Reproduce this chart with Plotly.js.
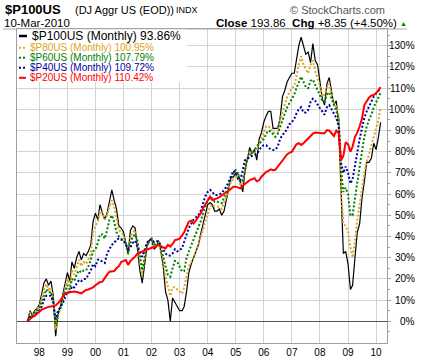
<!DOCTYPE html>
<html><head><meta charset="utf-8">
<script src="https://cdn.plot.ly/plotly-3.0.1.min.js"></script>
<style>html,body{margin:0;padding:0;background:#fff;}#chart{width:433px;height:360px;}</style>
</head><body><div id="chart"></div>
<script>
// ---- data (monthly, Aug 1997 .. Mar 2010), % change from start ----
const startYear = 1997, startMonth = 8;
const p100 = [0, 5, 3, 5, 6,
 8, 13, 18, 20, 17, 19, 12, -7, 3, 7,
 13, 18, 23, 19, 28, 25, 30, 33, 29, 32,
 31, 33, 36, 47, 51, 48, 55, 51, 48, 51,
 56, 62, 57, 53, 45, 44, 42, 36, 32, 43,
 45, 44, 34, 24, 18, 27, 35, 38, 39, 34,
 35, 38, 33, 26, 14, 10, 0, 11, 9, 7,
 5, 5, 7, 14, 23, 27, 30, 33, 36, 41,
 46, 51, 55, 56, 55, 52, 52, 53, 50, 52,
 58, 63, 68, 68, 70, 70, 66, 61, 71, 76,
 82, 79, 81, 76, 86, 89, 94, 97, 99, 99,
 91, 91, 91, 96, 106, 109, 113, 115, 117, 117,
 124, 130, 134, 130, 126, 127, 122, 131, 123, 121,
 114, 105, 102, 112, 115, 108, 102, 104, 92, 63,
 32, 33, 27, 15, 17, 30, 42, 46, 58, 66,
 75, 75, 77, 84, 81, 87, 93.86];
const p80 = [0, 4, 3, 4.5, 5.5,
 7, 11, 15, 17.5, 15, 16, 10, -4, 3, 6,
 11, 15, 20, 17, 24, 22, 26, 29, 26, 28,
 27, 29, 32, 42, 45, 47, 52, 51, 48, 50,
 54, 57, 54, 48, 43, 42, 40.5, 36, 31, 40,
 42, 43, 37, 28, 22, 29, 35, 38, 39, 35,
 36, 37, 33, 28, 21, 17, 12, 16, 16, 15,
 14, 13, 16, 22, 26, 28, 30, 33, 36, 40,
 43, 47, 51, 54, 55, 54, 54, 54, 53, 56,
 59, 63, 66, 67, 68, 70, 64, 66, 71, 77,
 80, 80, 79, 81, 84, 86, 89, 92, 92, 91,
 89, 89, 89, 95, 99, 102, 106, 108, 110, 111,
 116, 121, 125, 121, 119, 117, 121, 123, 118, 115,
 111, 106, 107, 110, 112, 107, 103, 101, 97, 62,
 46, 45, 42, 35, 30, 38, 48, 55, 63, 70,
 75, 79, 82, 86, 90, 95, 100.95];
const p60 = [0, 3, 2.5, 4, 5,
 6, 9, 12.5, 15, 13.5, 14, 9, -1.5, 4, 6,
 9.5, 13, 17, 15, 20, 19, 22, 24, 23, 24,
 24, 26, 29, 33, 34, 37, 41, 41, 39, 43,
 48, 50, 47, 42, 40, 39, 38, 37, 32, 37,
 40, 41, 38, 30, 24, 30, 36, 38, 39, 36,
 37, 38, 35, 30, 26, 22, 21, 25, 28.5, 28,
 26, 23.5, 23.7, 30, 33, 36, 39, 41.5, 44, 47,
 51, 54, 57, 58.5, 58, 56.4, 56.4, 56, 55.7, 58.5,
 61.5, 65, 67.5, 70, 71.5, 69, 66, 66, 72, 77,
 78.5, 79, 81, 82.5, 84, 84.7, 86, 88.5, 90, 89.5,
 88, 87, 88.5, 92, 95, 98, 101, 103, 105, 107,
 110, 113, 115.4, 113, 110.5, 110, 113.5, 114, 111.5, 108.5,
 106, 104, 103.6, 107, 108, 105, 103, 100, 96, 72,
 61, 63, 60, 50, 50, 58, 66, 73, 80, 87,
 92, 95, 97.5, 101, 103.5, 105.5, 107.79];
const p40 = [0, 2, 2, 3, 4,
 5, 7, 10, 12, 12, 12, 9, 1, 5, 6.5,
 8.5, 11, 14, 13, 16.5, 16, 18, 19.5, 19, 20,
 20, 22, 24, 27, 26, 29, 29, 28, 27.5, 32,
 34, 36, 37, 38.5, 39, 38.5, 38, 36, 34, 35,
 37, 38, 35, 32, 30.5, 34, 37, 38.5, 38.5, 37.5,
 38, 37.5, 36, 34, 32, 31, 31, 32, 34, 33,
 33.5, 34.5, 37.5, 41, 44, 46, 48, 49, 50, 52,
 56, 59, 61, 62, 61, 59.6, 59.6, 60, 60.4, 62,
 63.5, 66, 69, 71, 70, 67, 66.5, 71, 76, 76.5,
 77.5, 78, 78.5, 79, 80.5, 82.4, 83, 83, 82, 81,
 80.8, 81, 82.4, 86, 88, 89, 91, 93, 94, 95.5,
 98, 100, 101, 98.5, 98.5, 99.7, 103.5, 105, 104, 102,
 100.5, 99, 97.5, 101, 102, 100, 98, 96, 92, 75,
 70, 73, 70, 65, 67, 74, 80, 86, 91, 96,
 99, 101.5, 104, 106, 107.5, 108.5, 109.72];
const p20 = [0, 1, 2, 2.5, 3.5,
 4.5, 5.5, 6, 6.5, 6.8, 7, 7.2, 7.5, 8.5, 10,
 12, 13, 13.5, 13.8, 14, 14, 13.8, 13.5, 13.2, 14,
 14.8, 15, 15.5, 16, 17, 18, 18.5, 18.7, 20.5, 22,
 23.4, 23.5, 23.7, 25, 26, 28, 28.5, 28.9, 26.6, 28.5,
 29.5, 30.5, 32, 32.5, 33, 33.5, 34, 34.4, 34.7, 35,
 35.5, 36, 35.5, 35, 34.4, 36, 35.2, 36.5, 38.3, 38.6,
 39, 40.5, 42, 44.6, 47, 47.5, 46.2, 47.5, 49, 51,
 53.3, 55, 57, 58.8, 57.2, 57.5, 58, 58.6, 59.5, 60.5,
 61, 61.6, 62.5, 63.5, 63.5, 63, 62.7, 64, 65, 66,
 66.6, 67, 67.5, 66, 66.5, 68.2, 69.5, 70.5, 71, 71.7,
 71.3, 71.5, 72.9, 74.5, 76, 77.6, 78.8, 79.5, 80, 81.8,
 83.5, 84, 83.2, 84, 85, 86.5, 87.5, 88.5, 89, 88.8,
 88.7, 88.7, 88.7, 90.2, 90, 88.5, 87.4, 90, 88.7, 76,
 78, 84.5, 83.5, 80, 82.4, 87, 89, 92, 95.5, 102,
 104, 105.5, 106.5, 106.7, 107.5, 109, 110.42];

const seriesNames = ['$P100US', '$P80US', '$P60US', '$P40US', '$P20US'];
const seriesColors = ['#000000', '#DAA520', '#008000', '#0000A0', '#FF0000'];
const yTicks = [0, 10, 20, 30, 40, 50, 60, 70, 80, 90, 100, 110, 120, 130];
const xTickYears = [1998, 1999, 2000, 2001, 2002, 2003, 2004, 2005, 2006, 2007, 2008, 2009, 2010];
const xTickLabels = ['98', '99', '00', '01', '02', '03', '04', '05', '06', '07', '08', '09', '10'];
const symbol = '$P100US', symbolDesc = '(DJ Aggr US (EOD))', exchange = 'INDX';
const dateLabel = '10-Mar-2010', closeVal = '193.86', chgVal = '+8.35', chgPct = '(+4.50%)';

// ---- build ----
const dates = p100.map((_, i) => {
  const t = startMonth - 1 + i;
  const y = startYear + Math.floor(t / 12);
  const m = t % 12 + 1;
  return y + '-' + String(m).padStart(2, '0') + '-01';
});
const W = 433, H = 360, L = 17, R = 46, T = 29, B = 17;
const pw = W - L - R, ph = H - T - B;
const px = v => (v - L) / pw;
const py = v => (H - B - v) / ph;
const FONT = 'Liberation Sans, Arial, sans-serif';

const allSeries = [p100, p80, p60, p40, p20];
const styles = [
  {color: seriesColors[0], width: 1.2},
  {color: seriesColors[1], width: 2, dash: '2px,2px'},
  {color: seriesColors[2], width: 2, dash: '2px,2px'},
  {color: seriesColors[3], width: 2, dash: '2px,2px'},
  {color: seriesColors[4], width: 2}
];
const traces = allSeries.map((s, i) => ({
  x: dates, y: s, type: 'scatter', mode: 'lines', name: seriesNames[i],
  line: styles[i], hoverinfo: 'skip'
}));

const annotations = [];
const shapes = [];
// header
annotations.push({xref: 'paper', yref: 'paper', x: px(4), y: py(9.3), xanchor: 'left', yanchor: 'middle', showarrow: false,
  borderpad: 0, text: '<b>' + symbol + '</b>', font: {family: FONT, size: 13, color: '#000'}});
annotations.push({xref: 'paper', yref: 'paper', x: px(74), y: py(10), xanchor: 'left', yanchor: 'middle', showarrow: false,
  borderpad: 0, text: symbolDesc, font: {family: FONT, size: 11, color: '#000'}});
annotations.push({xref: 'paper', yref: 'paper', x: px(175), y: py(10.5), xanchor: 'left', yanchor: 'middle', showarrow: false,
  borderpad: 0, text: exchange, font: {family: FONT, size: 9, color: '#000'}});
annotations.push({xref: 'paper', yref: 'paper', x: px(386), y: py(10.3), xanchor: 'right', yanchor: 'middle', showarrow: false,
  borderpad: 0, text: '© StockCharts.com', font: {family: FONT, size: 11, color: '#555'}});
annotations.push({xref: 'paper', yref: 'paper', x: px(3), y: py(23), xanchor: 'left', yanchor: 'middle', showarrow: false,
  borderpad: 0, text: dateLabel, font: {family: FONT, size: 11.5, color: '#000'}});
annotations.push({xref: 'paper', yref: 'paper', x: px(398), y: py(23), xanchor: 'right', yanchor: 'middle', showarrow: false,
  borderpad: 0, text: '<b>Close</b> ' + closeVal + '  <b>Chg</b> ' + chgVal + ' ' + chgPct, font: {family: FONT, size: 11.5, color: '#000'}});
annotations.push({xref: 'paper', yref: 'paper', x: px(403), y: py(23.5), xanchor: 'center', yanchor: 'middle', showarrow: false,
  borderpad: 0, text: '▲', font: {family: FONT, size: 7, color: '#008000'}});
shapes.push({type: 'line', xref: 'paper', yref: 'paper', x0: px(3), x1: px(407), y0: py(29), y1: py(29),
  line: {color: '#aaaaaa', width: 1}});
// legend box
shapes.push({type: 'rect', xref: 'paper', yref: 'paper', x0: px(18), x1: px(187), y0: py(29.5), y1: py(82),
  fillcolor: '#ffffff', line: {width: 0}, layer: 'above'});
const legRows = [36, 47.8, 57.8, 67.8, 77.8];
allSeries.forEach((s, i) => {
  const last = s[s.length - 1];
  const big = i === 0;
  annotations.push({xref: 'paper', yref: 'paper', x: px(big ? 31 : 29), y: py(legRows[i]), xanchor: 'left', yanchor: 'middle',
    showarrow: false, borderpad: 0, text: seriesNames[i] + ' (Monthly) ' + last.toFixed(2) + '%',
    font: {family: FONT, size: big ? 12 : 10, color: seriesColors[i]}});
  shapes.push({type: 'line', xref: 'paper', yref: 'paper', x0: px(19), x1: px(big ? 27 : 26), y0: py(legRows[i]), y1: py(legRows[i]),
    line: {color: seriesColors[i], width: big ? 2.5 : 2, dash: styles[i].dash || 'solid'}, layer: 'above'});
});
// right axis labels (right aligned)
yTicks.forEach(v => {
  annotations.push({xref: 'paper', yref: 'y', x: px(416.5), y: v, xanchor: 'right', yanchor: 'middle', showarrow: false,
    text: v + '%', font: {family: FONT, size: 10, color: '#000'}});
});

const layout = {
  width: W, height: H, margin: {l: L, r: R, t: T, b: B, pad: 0},
  paper_bgcolor: '#fff', plot_bgcolor: '#fff', showlegend: false,
  font: {family: FONT, size: 10, color: '#000'},
  xaxis: {type: 'date', range: ['1997-03-16', '2010-05-23'], tickmode: 'array',
    tickvals: xTickYears.map(y => y + '-01-01'), ticktext: xTickLabels,
    showgrid: true, gridcolor: '#d4d4d4', gridwidth: 1, showline: true, mirror: true, linecolor: '#a0a0a0',
    ticks: '', tickfont: {family: FONT, size: 10, color: '#000'}, zeroline: false, fixedrange: true},
  yaxis: {side: 'right', range: [-10.24, 137.88], tickmode: 'array', tickvals: yTicks, showticklabels: false,
    ticks: 'outside', ticklen: 3, tickcolor: '#a0a0a0',
    minor: {tickmode: 'linear', tick0: 5, dtick: 10, ticks: 'outside', ticklen: 2, tickcolor: '#a0a0a0', showgrid: false},
    showgrid: true, gridcolor: '#d4d4d4', gridwidth: 1, zeroline: true, zerolinecolor: '#555', zerolinewidth: 1,
    showline: true, mirror: true, linecolor: '#a0a0a0', fixedrange: true},
  annotations: annotations, shapes: shapes
};
Plotly.newPlot('chart', traces, layout, {staticPlot: true, displayModeBar: false});
</script></body></html>
